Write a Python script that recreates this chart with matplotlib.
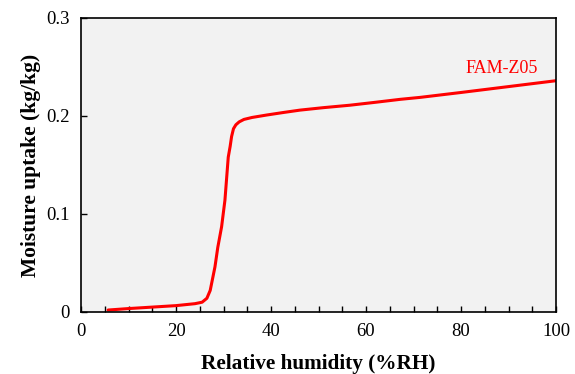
import numpy as np
import matplotlib.pyplot as plt
from matplotlib.ticker import MultipleLocator

# sorption isotherm, FAM-Z05
rh = [5.7, 10, 15, 20, 24, 25.5, 26.5, 27.2, 28.2, 28.8, 29.6, 30.3, 31.0,
      31.4, 31.7, 32.1, 32.6, 33.3, 34.3, 36.0, 39.1, 42.5, 46.1, 51.0,
      56.6, 62.0, 67.2, 71.4, 80, 90, 100]
uptake = [0.002, 0.0035, 0.005, 0.0065, 0.0085, 0.010, 0.014, 0.022, 0.046,
          0.066, 0.087, 0.114, 0.158, 0.169, 0.179, 0.187, 0.191, 0.194,
          0.1965, 0.1985, 0.201, 0.2035, 0.206, 0.2085, 0.211, 0.214, 0.217,
          0.219, 0.224, 0.230, 0.236]
series_name = "FAM-Z05"

plt.rcParams['font.family'] = ['Liberation Serif', 'DejaVu Serif']

fig = plt.figure(figsize=(5.75, 3.74), dpi=100)
ax = fig.add_axes([81 / 575, 1 - 312 / 374, 475 / 575, 294 / 374])
ax.set_facecolor('#f2f2f2')

ax.plot(rh, uptake, color='#ff0000', lw=2.2, solid_capstyle='round',
        solid_joinstyle='round')
ax.text(88.5, 0.248, series_name, color='#ff0000', fontsize=13,
        ha='center', va='center')

ax.set_xlim(0, 100)
ax.set_ylim(0, 0.3)
ax.xaxis.set_major_locator(MultipleLocator(20))
ax.xaxis.set_minor_locator(MultipleLocator(5))
ax.set_yticks([0, 0.1, 0.2, 0.3])
ax.set_yticklabels(['0', '0.1', '0.2', '0.3'])
ax.tick_params(axis='both', which='both', direction='in', labelsize=13.5,
               width=1, length=4, top=False, right=False)
ax.tick_params(axis='x', pad=8)
ax.tick_params(axis='y', pad=8)

for s in ax.spines.values():
    s.set_linewidth(1.2)
    s.set_color('#000000')

ax.set_xlabel('Relative humidity (%RH)', fontsize=15.3, fontweight='bold',
              labelpad=10)
ax.set_ylabel('Moisture uptake (kg/kg)', fontsize=15.5, fontweight='bold',
              labelpad=4)

fig.savefig('out.png', dpi=100)
